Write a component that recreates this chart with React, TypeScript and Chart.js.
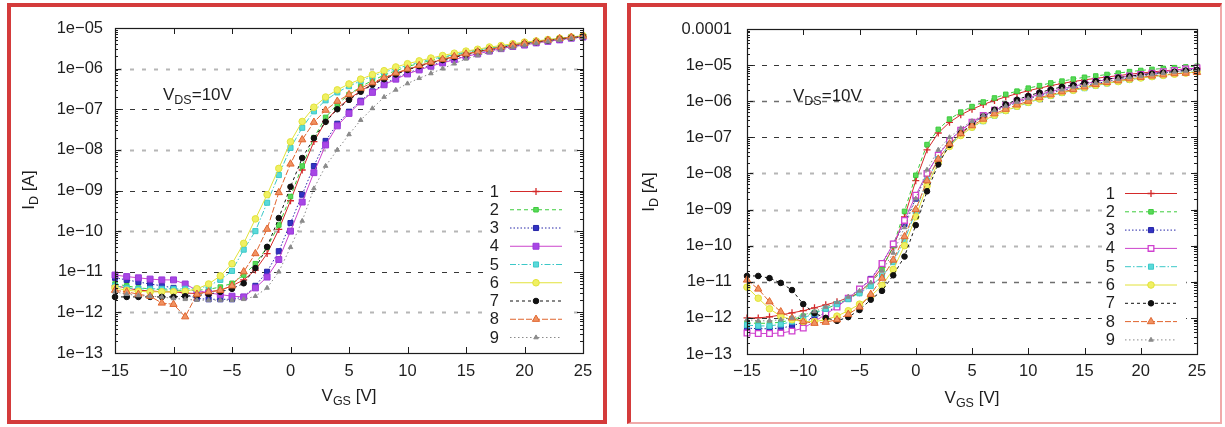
import React, { useEffect, useRef } from 'react';
import { Chart, registerables } from 'chart.js';

Chart.register(...registerables);

// ---------- data (I_D in A versus V_GS in V) ----------
const VGS = [-15, -14, -13, -12, -11, -10, -9, -8, -7, -6, -5, -4, -3, -2, -1, 0, 1, 2, 3, 4, 5, 6, 7, 8, 9, 10, 11, 12, 13, 14, 15, 16, 17, 18, 19, 20, 21, 22, 23, 24, 25];

// left panel
const L1 = [4.5e-12, 4.0e-12, 3.5e-12, 3.4e-12, 3.2e-12, 3.2e-12, 3.0e-12, 2.9e-12, 3.2e-12, 3.5e-12, 4.5e-12, 6.3e-12, 1.1e-11, 2.8e-11, 1.1e-10, 5.6e-10, 3.2e-9, 1.6e-8, 5.0e-8, 1.05e-7, 1.8e-7, 2.8e-7, 4.2e-7, 5.8e-7, 7.6e-7, 9.5e-7, 1.17e-6, 1.41e-6, 1.66e-6, 1.95e-6, 2.3e-6, 2.6e-6, 3.0e-6, 3.4e-6, 3.8e-6, 4.2e-6, 4.6e-6, 5.0e-6, 5.5e-6, 5.9e-6, 6.3e-6];
const L2 = [5.0e-12, 4.5e-12, 4.0e-12, 3.8e-12, 3.6e-12, 3.5e-12, 3.5e-12, 3.5e-12, 3.7e-12, 4.2e-12, 5.2e-12, 8.3e-12, 1.58e-11, 4.0e-11, 1.41e-10, 7.1e-10, 4.0e-9, 2.0e-8, 6.3e-8, 1.32e-7, 2.3e-7, 3.6e-7, 5.1e-7, 6.9e-7, 8.9e-7, 1.12e-6, 1.35e-6, 1.58e-6, 1.86e-6, 2.1e-6, 2.5e-6, 2.8e-6, 3.1e-6, 3.5e-6, 3.8e-6, 4.2e-6, 4.6e-6, 5.0e-6, 5.5e-6, 5.9e-6, 6.3e-6];
const L3 = [7.1e-12, 6.3e-12, 5.6e-12, 5.0e-12, 4.5e-12, 4.0e-12, 2.8e-12, 2.2e-12, 2.1e-12, 2.1e-12, 2.1e-12, 2.4e-12, 4.5e-12, 1.0e-11, 3.2e-11, 1.58e-10, 7.9e-10, 4.0e-9, 1.66e-8, 4.4e-8, 8.7e-8, 1.62e-7, 2.75e-7, 4.2e-7, 5.8e-7, 7.8e-7, 9.8e-7, 1.2e-6, 1.45e-6, 1.74e-6, 2.0e-6, 2.4e-6, 2.75e-6, 3.2e-6, 3.5e-6, 3.9e-6, 4.4e-6, 4.8e-6, 5.2e-6, 5.8e-6, 6.2e-6];
const L4 = [8.3e-12, 7.6e-12, 7.1e-12, 6.6e-12, 6.3e-12, 6.3e-12, 5.0e-12, 3.5e-12, 3.0e-12, 2.75e-12, 2.5e-12, 2.4e-12, 4.0e-12, 7.4e-12, 2.0e-11, 1.0e-10, 5.2e-10, 2.75e-9, 1.32e-8, 3.9e-8, 7.9e-8, 1.51e-7, 2.6e-7, 4.0e-7, 5.5e-7, 7.4e-7, 9.3e-7, 1.15e-6, 1.38e-6, 1.66e-6, 2.0e-6, 2.3e-6, 2.7e-6, 3.1e-6, 3.5e-6, 3.8e-6, 4.3e-6, 4.7e-6, 5.1e-6, 5.6e-6, 6.0e-6];
const L5 = [4.5e-12, 4.0e-12, 3.8e-12, 3.8e-12, 3.8e-12, 3.8e-12, 3.8e-12, 3.8e-12, 4.5e-12, 6.3e-12, 1.05e-11, 3.5e-11, 1.0e-10, 5.0e-10, 2.4e-9, 1.12e-8, 3.5e-8, 8.9e-8, 1.66e-7, 2.6e-7, 3.7e-7, 5.0e-7, 6.5e-7, 8.1e-7, 1.0e-6, 1.2e-6, 1.45e-6, 1.7e-6, 1.95e-6, 2.2e-6, 2.6e-6, 2.9e-6, 3.2e-6, 3.5e-6, 3.9e-6, 4.3e-6, 4.7e-6, 5.1e-6, 5.5e-6, 5.9e-6, 6.3e-6];
const L6 = [4.0e-12, 3.5e-12, 3.3e-12, 3.2e-12, 3.2e-12, 3.2e-12, 3.3e-12, 3.8e-12, 5.0e-12, 7.9e-12, 1.58e-11, 5.0e-11, 2.0e-10, 7.9e-10, 3.5e-9, 1.58e-8, 5.0e-8, 1.12e-7, 2.0e-7, 3.0e-7, 4.2e-7, 5.5e-7, 7.1e-7, 8.9e-7, 1.1e-6, 1.32e-6, 1.55e-6, 1.82e-6, 2.1e-6, 2.4e-6, 2.7e-6, 3.0e-6, 3.4e-6, 3.7e-6, 4.1e-6, 4.5e-6, 4.8e-6, 5.2e-6, 5.6e-6, 6.0e-6, 6.5e-6];
const L7 = [2.4e-12, 2.4e-12, 2.4e-12, 2.4e-12, 2.4e-12, 2.4e-12, 2.5e-12, 2.6e-12, 2.8e-12, 3.2e-12, 3.8e-12, 5.2e-12, 1.23e-11, 4.1e-11, 2.1e-10, 1.23e-9, 6.3e-9, 1.95e-8, 4.9e-8, 1.0e-7, 1.7e-7, 2.7e-7, 4.0e-7, 5.5e-7, 7.2e-7, 9.3e-7, 1.15e-6, 1.38e-6, 1.62e-6, 1.9e-6, 2.2e-6, 2.6e-6, 2.95e-6, 3.3e-6, 3.7e-6, 4.1e-6, 4.5e-6, 4.9e-6, 5.4e-6, 5.8e-6, 6.2e-6];
const L8 = [3.5e-12, 3.2e-12, 2.8e-12, 2.5e-12, 1.7e-12, 1.58e-12, 7.8e-13, 2.8e-12, 3.2e-12, 3.5e-12, 4.5e-12, 1.0e-11, 2.8e-11, 1.12e-10, 8.9e-10, 4.5e-9, 1.78e-8, 4.8e-8, 9.5e-8, 1.58e-7, 2.3e-7, 3.3e-7, 4.5e-7, 6.0e-7, 7.8e-7, 9.8e-7, 1.2e-6, 1.45e-6, 1.7e-6, 2.0e-6, 2.3e-6, 2.6e-6, 3.0e-6, 3.4e-6, 3.8e-6, 4.2e-6, 4.6e-6, 5.0e-6, 5.5e-6, 5.9e-6, 6.3e-6];
const L9 = [3.2e-12, 2.8e-12, 2.6e-12, 2.5e-12, 2.4e-12, 2.2e-12, 2.1e-12, 2.0e-12, 2.0e-12, 2.0e-12, 2.0e-12, 2.1e-12, 2.5e-12, 4.0e-12, 1.0e-11, 4.0e-11, 1.78e-10, 1.12e-9, 4.0e-9, 1.0e-8, 2.4e-8, 5.4e-8, 1.05e-7, 2.0e-7, 3.0e-7, 4.3e-7, 5.8e-7, 7.6e-7, 1.0e-6, 1.32e-6, 1.74e-6, 2.1e-6, 2.5e-6, 2.9e-6, 3.3e-6, 3.7e-6, 4.2e-6, 4.6e-6, 5.0e-6, 5.5e-6, 5.9e-6];

// right panel
const R1 = [1.0e-12, 1.0e-12, 1.07e-12, 1.2e-12, 1.38e-12, 1.58e-12, 1.9e-12, 2.3e-12, 2.8e-12, 3.6e-12, 5.0e-12, 1.0e-11, 2.5e-11, 8.9e-11, 6.3e-10, 6.3e-9, 4.5e-8, 1.32e-7, 2.6e-7, 4.2e-7, 6.0e-7, 8.1e-7, 1.05e-6, 1.32e-6, 1.62e-6, 1.95e-6, 2.3e-6, 2.7e-6, 3.1e-6, 3.5e-6, 3.9e-6, 4.3e-6, 4.7e-6, 5.1e-6, 5.6e-6, 6.0e-6, 6.5e-6, 6.9e-6, 7.4e-6, 7.8e-6, 8.1e-6];
const R2 = [7.2e-13, 7.1e-13, 7.1e-13, 7.6e-13, 8.9e-13, 1.12e-12, 1.41e-12, 1.78e-12, 2.4e-12, 3.3e-12, 5.0e-12, 8.9e-12, 2.2e-11, 1.0e-10, 8.9e-10, 8.9e-9, 6.3e-8, 1.66e-7, 3.2e-7, 5.0e-7, 7.1e-7, 9.5e-7, 1.23e-6, 1.55e-6, 1.9e-6, 2.3e-6, 2.7e-6, 3.2e-6, 3.6e-6, 4.1e-6, 4.6e-6, 5.0e-6, 5.5e-6, 6.0e-6, 6.6e-6, 7.1e-6, 7.6e-6, 8.1e-6, 8.5e-6, 8.9e-6, 9.3e-6];
const R3 = [5.2e-13, 5.0e-13, 5.0e-13, 5.2e-13, 6.0e-13, 7.6e-13, 1.0e-12, 1.41e-12, 2.1e-12, 3.5e-12, 6.3e-12, 1.2e-11, 3.2e-11, 1.12e-10, 4.0e-10, 2.0e-9, 1.0e-8, 3.3e-8, 8.3e-8, 1.58e-7, 2.5e-7, 3.7e-7, 5.2e-7, 7.1e-7, 9.1e-7, 1.15e-6, 1.41e-6, 1.7e-6, 2.0e-6, 2.3e-6, 2.7e-6, 3.1e-6, 3.5e-6, 4.0e-6, 4.5e-6, 5.0e-6, 5.5e-6, 6.0e-6, 6.6e-6, 7.2e-6, 7.9e-6];
const R4 = [3.8e-13, 3.7e-13, 3.7e-13, 3.8e-13, 4.3e-13, 5.2e-13, 7.9e-13, 1.26e-12, 2.0e-12, 3.5e-12, 6.3e-12, 1.12e-11, 3.2e-11, 1.12e-10, 5.0e-10, 2.5e-9, 1.0e-8, 3.2e-8, 7.9e-8, 1.58e-7, 2.6e-7, 4.0e-7, 5.6e-7, 7.6e-7, 1.0e-6, 1.26e-6, 1.55e-6, 1.86e-6, 2.2e-6, 2.6e-6, 3.0e-6, 3.5e-6, 4.0e-6, 4.5e-6, 5.0e-6, 5.5e-6, 6.0e-6, 6.6e-6, 7.1e-6, 7.8e-6, 8.3e-6];
const R5 = [6.3e-13, 6.0e-13, 6.0e-13, 6.6e-13, 7.9e-13, 1.0e-12, 1.32e-12, 1.78e-12, 2.4e-12, 3.3e-12, 4.8e-12, 7.6e-12, 1.41e-11, 3.5e-11, 1.41e-10, 8.9e-10, 6.3e-9, 2.5e-8, 6.3e-8, 1.17e-7, 1.9e-7, 2.8e-7, 4.0e-7, 5.4e-7, 7.1e-7, 9.1e-7, 1.15e-6, 1.41e-6, 1.7e-6, 2.0e-6, 2.3e-6, 2.7e-6, 3.1e-6, 3.5e-6, 3.9e-6, 4.4e-6, 4.8e-6, 5.2e-6, 5.8e-6, 6.2e-6, 6.6e-6];
const R6 = [7.1e-12, 3.5e-12, 1.78e-12, 1.12e-12, 8.9e-13, 7.9e-13, 7.9e-13, 8.9e-13, 1.12e-12, 1.58e-12, 2.4e-12, 4.0e-12, 7.9e-12, 2.2e-11, 1.0e-10, 6.3e-10, 4.5e-9, 2.0e-8, 5.6e-8, 1.12e-7, 1.9e-7, 2.9e-7, 4.1e-7, 5.5e-7, 7.2e-7, 9.3e-7, 1.17e-6, 1.45e-6, 1.74e-6, 2.0e-6, 2.4e-6, 2.75e-6, 3.2e-6, 3.5e-6, 4.0e-6, 4.4e-6, 4.8e-6, 5.2e-6, 5.6e-6, 6.0e-6, 6.5e-6];
const R7 = [1.45e-11, 1.45e-11, 1.26e-11, 9.3e-12, 5.9e-12, 2.4e-12, 1.35e-12, 1.0e-12, 8.3e-13, 1.05e-12, 1.66e-12, 3.2e-12, 5.6e-12, 1.51e-11, 5.0e-11, 3.7e-10, 3.2e-9, 1.78e-8, 6.2e-8, 1.32e-7, 2.3e-7, 3.8e-7, 5.8e-7, 8.1e-7, 1.1e-6, 1.41e-6, 1.74e-6, 2.1e-6, 2.5e-6, 2.8e-6, 3.2e-6, 3.6e-6, 4.1e-6, 4.5e-6, 4.9e-6, 5.4e-6, 5.8e-6, 6.2e-6, 6.6e-6, 7.1e-6, 7.4e-6];
const R8 = [1.12e-11, 6.3e-12, 2.8e-12, 1.48e-12, 1.0e-12, 7.9e-13, 7.1e-13, 7.6e-13, 8.9e-13, 1.26e-12, 2.0e-12, 4.5e-12, 1.26e-11, 4.0e-11, 1.78e-10, 1.0e-9, 6.3e-9, 2.5e-8, 6.6e-8, 1.26e-7, 2.1e-7, 3.2e-7, 4.5e-7, 6.0e-7, 7.9e-7, 1.0e-6, 1.26e-6, 1.51e-6, 1.82e-6, 2.1e-6, 2.5e-6, 2.9e-6, 3.3e-6, 3.7e-6, 4.2e-6, 4.6e-6, 5.0e-6, 5.4e-6, 5.8e-6, 6.0e-6, 6.3e-6];
const R9 = [8.9e-13, 8.3e-13, 8.3e-13, 8.9e-13, 1.0e-12, 1.2e-12, 1.51e-12, 2.0e-12, 2.7e-12, 3.8e-12, 5.6e-12, 9.5e-12, 2.0e-11, 6.3e-11, 3.2e-10, 2.0e-9, 1.26e-8, 4.5e-8, 1.0e-7, 1.78e-7, 2.8e-7, 4.1e-7, 5.6e-7, 7.4e-7, 9.5e-7, 1.2e-6, 1.48e-6, 1.78e-6, 2.1e-6, 2.5e-6, 2.8e-6, 3.2e-6, 3.6e-6, 4.1e-6, 4.6e-6, 5.0e-6, 5.5e-6, 6.0e-6, 6.5e-6, 6.9e-6, 7.4e-6];

const SERIES_LABELS = ['1', '2', '3', '4', '5', '6', '7', '8', '9'];

const X_TICKS = [-15, -10, -5, 0, 5, 10, 15, 20, 25];
const X_TICK_LABELS = ['\u221215', '\u221210', '\u22125', '0', '5', '10', '15', '20', '25'];

const LEFT_Y_TICKS = [1e-13, 1e-12, 1e-11, 1e-10, 1e-9, 1e-8, 1e-7, 1e-6, 1e-5];
const LEFT_Y_TICK_LABELS = ['1e\u221213', '1e\u221212', '1e\u221211', '1e\u221210', '1e\u221209', '1e\u221208', '1e\u221207', '1e\u221206', '1e\u221205'];
const RIGHT_Y_TICKS = [1e-13, 1e-12, 1e-11, 1e-10, 1e-9, 1e-8, 1e-7, 1e-6, 1e-5, 1e-4];
const RIGHT_Y_TICK_LABELS = ['1e\u221213', '1e\u221212', '1e\u221211', '1e\u221210', '1e\u221209', '1e\u221208', '1e\u221207', '1e\u221206', '1e\u221205', '0.0001'];

// ---------- styles ----------
const FONT = '"Liberation Sans", Arial, Helvetica, sans-serif';
const TEXT_COLOR = '#1e1e1e';

type Marker = 'cross' | 'crossRot' | 'star' | 'rect' | 'circle' | 'triangle';
interface SeriesStyle { color: string; dash: number[]; marker: Marker; radius: number; fill: string; stroke: string; pw: number; }

const SERIES_STYLES: SeriesStyle[] = [
  { color: '#d42a2a', dash: [], marker: 'cross', radius: 3.5, fill: '#d42a2a', stroke: '#d42a2a', pw: 1.3 },
  { color: '#3ccc3c', dash: [4, 3], marker: 'rect', radius: 3.2, fill: '#5ad85a', stroke: '#3ccc3c', pw: 1 },
  { color: '#2626a8', dash: [1.5, 2], marker: 'rect', radius: 3.6, fill: '#3232c2', stroke: '#2626a8', pw: 1 },
  { color: '#cc44cc', dash: [], marker: 'rect', radius: 4.2, fill: '#a846e6', stroke: '#9a3ad8', pw: 1 },
  { color: '#3cc8c8', dash: [6, 2, 1.5, 2], marker: 'rect', radius: 3.6, fill: '#5adada', stroke: '#3cc8c8', pw: 1 },
  { color: '#e2e23a', dash: [], marker: 'circle', radius: 3.3, fill: '#f0f062', stroke: '#e2e23a', pw: 1 },
  { color: '#111111', dash: [3, 3], marker: 'circle', radius: 2.8, fill: '#111111', stroke: '#111111', pw: 1 },
  { color: '#e0652e', dash: [6, 2], marker: 'triangle', radius: 4.2, fill: '#f09262', stroke: '#e0652e', pw: 1 },
  { color: '#8a8a8a', dash: [1.5, 2.5], marker: 'triangle', radius: 2.6, fill: '#8a8a8a', stroke: '#8a8a8a', pw: 1 },
];
const RIGHT_STYLE_OVERRIDE: Record<number, Partial<SeriesStyle>> = {
  3: { fill: '#ffffff', stroke: '#d040d0', pw: 1.3, radius: 4 },
};

const DARK = { color: '#363636', width: 1, dash: [5, 7] };
const MEDIUM = { color: '#6e6e6e', width: 1.3, dash: [5, 7] };
const LIGHT = { color: '#b6b6b6', width: 2, dash: [4, 8] };

interface Panel {
  key: string;
  series: number[][];
  yMin: number; yMax: number;
  yTicks: number[]; yLabels: string[];
  grid: (typeof DARK | null)[];
  area: { left: number; right: number; top: number; bottom: number };
  yLabelPad: number; xLabelPad: number;
  legend: { box: [number, number, number, number]; numX: number; x1: number; x2: number; y0: number; dy: number };
  vds: { x: number; y: number };
  xTitle: { x: number; y: number };
  yTitle: { x: number; y: number };
  override: Record<number, Partial<SeriesStyle>>;
}

const LEFT_PANEL: Panel = {
  key: 'left',
  series: [L1, L2, L3, L4, L5, L6, L7, L8, L9],
  yMin: 1e-13, yMax: 1e-5,
  yTicks: LEFT_Y_TICKS, yLabels: LEFT_Y_TICK_LABELS,
  grid: [null, LIGHT, DARK, LIGHT, DARK, LIGHT, DARK, LIGHT, null],
  area: { left: 115, right: 583, top: 28, bottom: 353 },
  yLabelPad: 12, xLabelPad: 9,
  legend: { box: [488, 181, 569, 347], numX: 499, x1: 510, x2: 562, y0: 191, dy: 18.25 },
  vds: { x: 163, y: 100 },
  xTitle: { x: 349, y: 401 },
  yTitle: { x: 34, y: 190 },
  override: {},
};

const RIGHT_PANEL: Panel = {
  key: 'right',
  series: [R1, R2, R3, R4, R5, R6, R7, R8, R9],
  yMin: 1e-13, yMax: 1e-4,
  yTicks: RIGHT_Y_TICKS, yLabels: RIGHT_Y_TICK_LABELS,
  grid: [null, DARK, MEDIUM, LIGHT, LIGHT, LIGHT, DARK, MEDIUM, DARK, null],
  area: { left: 747, right: 1197, top: 29, bottom: 354 },
  yLabelPad: 15, xLabelPad: 8,
  legend: { box: [1102, 183, 1186, 349], numX: 1115, x1: 1125, x2: 1177, y0: 193, dy: 18.3 },
  vds: { x: 793, y: 101 },
  xTitle: { x: 972, y: 403 },
  yTitle: { x: 654, y: 192 },
  override: RIGHT_STYLE_OVERRIDE,
};

const W = 1225;
const H = 427;
const Y_AXIS_W = 110;

function styleFor(p: Panel, i: number): SeriesStyle {
  return { ...SERIES_STYLES[i], ...(p.override[i] || {}) };
}

function drawMarker(ctx: CanvasRenderingContext2D, s: SeriesStyle, x: number, y: number) {
  const r = s.radius;
  ctx.save();
  ctx.setLineDash([]);
  ctx.lineWidth = s.pw;
  ctx.strokeStyle = s.stroke;
  ctx.fillStyle = s.fill;
  ctx.beginPath();
  if (s.marker === 'cross') {
    ctx.moveTo(x - r, y); ctx.lineTo(x + r, y); ctx.moveTo(x, y - r); ctx.lineTo(x, y + r);
    ctx.stroke();
  } else if (s.marker === 'rect') {
    const h = r * Math.SQRT1_2;
    ctx.rect(x - h, y - h, 2 * h, 2 * h);
    ctx.fill(); ctx.stroke();
  } else if (s.marker === 'circle') {
    ctx.arc(x, y, r, 0, Math.PI * 2);
    ctx.fill(); ctx.stroke();
  } else if (s.marker === 'triangle') {
    ctx.moveTo(x, y - r);
    ctx.lineTo(x + r * 0.866, y + r * 0.5);
    ctx.lineTo(x - r * 0.866, y + r * 0.5);
    ctx.closePath();
    ctx.fill(); ctx.stroke();
  } else {
    const h = r * Math.SQRT1_2;
    ctx.moveTo(x - h, y - h); ctx.lineTo(x + h, y + h); ctx.moveTo(x - h, y + h); ctx.lineTo(x + h, y - h);
    ctx.stroke();
  }
  ctx.restore();
}

type Part = { t: string; sub?: boolean };
function drawRich(ctx: CanvasRenderingContext2D, parts: Part[], x: number, y: number, center: boolean) {
  const fm = `17px ${FONT}`;
  const fs = `12.5px ${FONT}`;
  let w = 0;
  parts.forEach((p) => { ctx.font = p.sub ? fs : fm; w += ctx.measureText(p.t).width; });
  let cx = center ? x - w / 2 : x;
  ctx.textAlign = 'left';
  ctx.textBaseline = 'alphabetic';
  ctx.fillStyle = TEXT_COLOR;
  parts.forEach((p) => {
    ctx.font = p.sub ? fs : fm;
    ctx.fillText(p.t, cx, p.sub ? y + 4 : y);
    cx += ctx.measureText(p.t).width;
  });
}

function makePlugin(p: Panel) {
  return {
    id: 'decor_' + p.key,
    beforeDatasetsDraw(chart: any) {
      const { ctx, chartArea: a } = chart;
      const ys = chart.scales.y;
      ctx.save();
      p.yTicks.forEach((v, i) => {
        const st = p.grid[i];
        if (!st) return;
        const py = Math.round(ys.getPixelForValue(v)) + 0.5;
        ctx.strokeStyle = st.color;
        ctx.lineWidth = st.width;
        ctx.setLineDash(st.dash);
        ctx.lineDashOffset = -3;
        ctx.beginPath();
        ctx.moveTo(a.left, py);
        ctx.lineTo(a.right, py);
        ctx.stroke();
      });
      const b = p.legend.box;
      ctx.setLineDash([]);
      ctx.fillStyle = '#ffffff';
      ctx.fillRect(b[0], b[1], b[2] - b[0], b[3] - b[1]);
      ctx.restore();
    },
    afterDatasetsDraw(chart: any) {
      const { ctx, chartArea: a } = chart;
      const xs = chart.scales.x;
      const ys = chart.scales.y;
      ctx.save();
      ctx.setLineDash([]);
      ctx.strokeStyle = '#1c1c1c';
      ctx.lineWidth = 1.2;
      ctx.strokeRect(a.left + 0.5, a.top + 0.5, a.right - a.left, a.bottom - a.top);
      ctx.lineWidth = 1;
      ctx.beginPath();
      X_TICKS.forEach((v) => {
        const px = Math.round(xs.getPixelForValue(v)) + 0.5;
        ctx.moveTo(px, a.bottom); ctx.lineTo(px, a.bottom - 6);
        ctx.moveTo(px, a.top); ctx.lineTo(px, a.top + 6);
      });
      p.yTicks.forEach((v) => {
        const py = Math.round(ys.getPixelForValue(v)) + 0.5;
        ctx.moveTo(a.left, py); ctx.lineTo(a.left + 6, py);
        ctx.moveTo(a.right, py); ctx.lineTo(a.right - 6, py);
        for (let m = 2; m <= 9; m++) {
          const mv = v * m;
          if (mv >= p.yMax) break;
          const my = Math.round(ys.getPixelForValue(mv)) + 0.5;
          ctx.moveTo(a.left, my); ctx.lineTo(a.left + 3, my);
          ctx.moveTo(a.right, my); ctx.lineTo(a.right - 3, my);
        }
      });
      ctx.stroke();

      // legend
      const lg = p.legend;
      SERIES_LABELS.forEach((lab, i) => {
        const y = lg.y0 + i * lg.dy;
        const s = styleFor(p, i);
        ctx.font = `16.5px ${FONT}`;
        ctx.fillStyle = TEXT_COLOR;
        ctx.textAlign = 'right';
        ctx.textBaseline = 'middle';
        ctx.fillText(lab, lg.numX, y + 1);
        ctx.strokeStyle = s.color;
        ctx.lineWidth = 1;
        ctx.setLineDash(s.dash);
        ctx.beginPath();
        ctx.moveTo(lg.x1, y + 0.5);
        ctx.lineTo(lg.x2, y + 0.5);
        ctx.stroke();
        ctx.setLineDash([]);
        drawMarker(ctx, s, (lg.x1 + lg.x2) / 2, y + 0.5);
      });

      // texts
      drawRich(ctx, [{ t: 'V' }, { t: 'DS', sub: true }, { t: '=10V' }], p.vds.x, p.vds.y, false);
      drawRich(ctx, [{ t: 'V' }, { t: 'GS', sub: true }, { t: ' [V]' }], p.xTitle.x, p.xTitle.y, true);
      ctx.save();
      ctx.translate(p.yTitle.x, p.yTitle.y);
      ctx.rotate(-Math.PI / 2);
      drawRich(ctx, [{ t: 'I' }, { t: 'D', sub: true }, { t: ' [A]' }], 0, 0, true);
      ctx.restore();
      ctx.restore();
    },
  };
}

function makeConfig(p: Panel): any {
  const datasets = p.series.map((arr, i) => {
    const s = styleFor(p, i);
    return {
      label: SERIES_LABELS[i],
      data: VGS.map((v, j) => ({ x: v, y: arr[j] })),
      borderColor: s.color,
      borderWidth: 1,
      borderDash: s.dash,
      pointStyle: s.marker,
      pointRadius: s.radius,
      pointBorderWidth: s.pw,
      pointBorderColor: s.stroke,
      pointBackgroundColor: s.fill,
      fill: false,
      tension: 0,
      clip: 8,
      order: 9 - i,
    };
  });
  return {
    type: 'line',
    data: { datasets },
    plugins: [makePlugin(p)],
    options: {
      responsive: false,
      maintainAspectRatio: false,
      animation: false,
      events: [],
      layout: {
        padding: { left: p.area.left - Y_AXIS_W, right: W - p.area.right, top: p.area.top, bottom: 0 },
      },
      plugins: { legend: { display: false }, tooltip: { enabled: false }, title: { display: false } },
      scales: {
        x: {
          type: 'linear',
          position: 'bottom',
          min: -15,
          max: 25,
          grid: { display: false, drawTicks: false },
          border: { display: false },
          ticks: {
            stepSize: 5,
            autoSkip: false,
            maxRotation: 0,
            padding: p.xLabelPad,
            color: TEXT_COLOR,
            font: { family: FONT, size: 16.5 },
            callback: (v: any) => {
              const k = X_TICKS.indexOf(Number(v));
              return k >= 0 ? X_TICK_LABELS[k] : '';
            },
          },
          afterFit: (sc: any) => { sc.height = H - p.area.bottom; },
        },
        y: {
          type: 'logarithmic',
          position: 'left',
          min: p.yMin,
          max: p.yMax,
          grid: { display: false, drawTicks: false },
          border: { display: false },
          ticks: {
            autoSkip: false,
            padding: p.yLabelPad,
            color: TEXT_COLOR,
            font: { family: FONT, size: 16.5 },
            callback: (_v: any, idx: number) => p.yLabels[idx] ?? '',
          },
          afterBuildTicks: (sc: any) => { sc.ticks = p.yTicks.map((v) => ({ value: v })); },
          afterFit: (sc: any) => { sc.width = Y_AXIS_W; },
        },
      },
    },
  };
}

export default function App() {
  const leftRef = useRef<HTMLCanvasElement>(null);
  const rightRef = useRef<HTMLCanvasElement>(null);

  useEffect(() => {
    const c1 = new Chart(leftRef.current as HTMLCanvasElement, makeConfig(LEFT_PANEL));
    const c2 = new Chart(rightRef.current as HTMLCanvasElement, makeConfig(RIGHT_PANEL));
    return () => { c1.destroy(); c2.destroy(); };
  }, []);

  const canvasStyle: React.CSSProperties = { position: 'absolute', left: 0, top: 0, width: W, height: H };
  return (
    <div style={{ position: 'absolute', left: 0, top: 0, width: W, height: H, background: '#ffffff', overflow: 'hidden' }}>
      <div style={{ position: 'absolute', left: 7, top: 3, width: 600, height: 421, boxSizing: 'border-box', border: '4px solid #d43b3b' }} />
      <div style={{ position: 'absolute', left: 627, top: 3, width: 595, height: 421, boxSizing: 'border-box', borderTop: '4px solid #d43b3b', borderLeft: '4px solid #d43b3b', borderRight: '2px solid #f0aaaa', borderBottom: '2px solid #f0aaaa' }} />
      <canvas ref={leftRef} width={W} height={H} style={canvasStyle} />
      <canvas ref={rightRef} width={W} height={H} style={canvasStyle} />
    </div>
  );
}
